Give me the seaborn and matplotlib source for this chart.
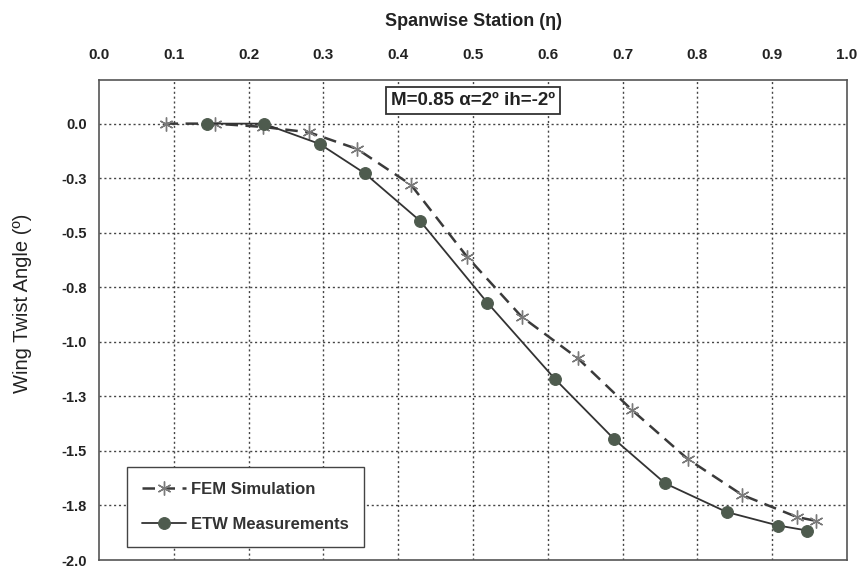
import matplotlib
matplotlib.use("Agg")
import matplotlib.pyplot as plt
import seaborn as sns
import pandas as pd

# ---- data ----
fem_x = [0.089, 0.155, 0.219, 0.281, 0.345, 0.417, 0.492, 0.565, 0.640, 0.713, 0.787, 0.860, 0.933, 0.959]
fem_y = [0.0, 0.0, -0.015, -0.040, -0.116, -0.280, -0.610, -0.885, -1.075, -1.314, -1.537, -1.702, -1.803, -1.821]
etw_x = [0.145, 0.220, 0.295, 0.355, 0.429, 0.519, 0.610, 0.689, 0.757, 0.839, 0.908, 0.947]
etw_y = [0.0, 0.0, -0.093, -0.227, -0.445, -0.820, -1.172, -1.447, -1.649, -1.780, -1.842, -1.865]

x_ticks = [0.0, 0.1, 0.2, 0.3, 0.4, 0.5, 0.6, 0.7, 0.8, 0.9, 1.0]
x_tick_labels = ["0.0", "0.1", "0.2", "0.3", "0.4", "0.5", "0.6", "0.7", "0.8", "0.9", "1.0"]
y_ticks = [0.0, -0.25, -0.5, -0.75, -1.0, -1.25, -1.5, -1.75, -2.0]
y_tick_labels = ["0.0", "-0.3", "-0.5", "-0.8", "-1.0", "-1.3", "-1.5", "-1.8", "-2.0"]

series_names = ["FEM Simulation", "ETW Measurements"]
title_text = "M=0.85 \u03b1=2\u00ba ih=-2\u00ba"
x_label = "Spanwise Station (\u03b7)"
y_label = "Wing Twist Angle (\u00ba)"

sns.set_theme(style="white")
plt.rcParams['font.family'] = ['Liberation Sans', 'DejaVu Sans']

fem_df = pd.DataFrame({"x": fem_x, "y": fem_y})
etw_df = pd.DataFrame({"x": etw_x, "y": etw_y})

fig = plt.figure(figsize=(8.63, 5.69), dpi=100)
ax = fig.add_axes([99 / 863, 1 - 560 / 569, 748 / 863, 480 / 569])

sns.lineplot(data=fem_df, x="x", y="y", ax=ax, sort=False, estimator=None,
             color="#3a3a3a", linewidth=1.8, dashes=False, linestyle=(0, (5, 3)),
             marker=(6, 2, 0), markersize=10, markeredgecolor="#7a7a7a",
             markerfacecolor="#7a7a7a", markeredgewidth=1.0, label=series_names[0])
sns.lineplot(data=etw_df, x="x", y="y", ax=ax, sort=False, estimator=None,
             color="#333333", linewidth=1.3, marker="o", markersize=8.5,
             markerfacecolor="#4e5b4e", markeredgecolor="#4e5b4e",
             label=series_names[1])

ax.set_xlim(0.0, 1.0)
ax.set_ylim(-2.0, 0.2)

ax.xaxis.tick_top()
ax.xaxis.set_label_position("top")
ax.set_xticks(x_ticks)
ax.set_xticklabels(x_tick_labels, fontsize=11, fontweight="bold", color="#222222")
ax.set_yticks(y_ticks)
ax.set_yticklabels(y_tick_labels, fontsize=10.5, fontweight="bold", color="#222222")
ax.tick_params(axis="x", length=0, pad=13)
ax.tick_params(axis="y", length=0, pad=9)

ax.set_xlabel(x_label, fontsize=13, fontweight="bold", labelpad=16, color="#222222")
ax.set_ylabel(y_label, fontsize=14.5, color="#222222")
ax.yaxis.set_label_coords(-0.090, 0.535)

# grid lines
for gx in x_ticks[1:-1]:
    ax.axvline(gx, color="#444444", linestyle=(0, (1.5, 2)), linewidth=1.0, zorder=0)
for gy in y_ticks[:-1]:
    ax.axhline(gy, color="#444444", linestyle=(0, (1.5, 2)), linewidth=1.0, zorder=0)

for side in ["left", "right", "top", "bottom"]:
    ax.spines[side].set_visible(True)
    ax.spines[side].set_color("#555555")
    ax.spines[side].set_linewidth(1.2)

leg = ax.legend(loc="lower left", bbox_to_anchor=(0.038, 0.027), borderaxespad=0,
                frameon=True, fancybox=False, edgecolor="#444444", framealpha=1,
                prop={"weight": "bold", "size": 12}, handlelength=2.6,
                labelspacing=1.2, borderpad=0.9, handletextpad=0.3)
leg.get_frame().set_linewidth(1.0)
for t in leg.get_texts():
    t.set_color("#333333")

ax.text(0.5, 0.957, title_text, transform=ax.transAxes, ha="center", va="center",
        fontsize=13.5, fontweight="bold", color="#222222",
        bbox=dict(boxstyle="square,pad=0.25", facecolor="white", edgecolor="#333333", linewidth=1.3))

fig.savefig("out.png", dpi=100)
